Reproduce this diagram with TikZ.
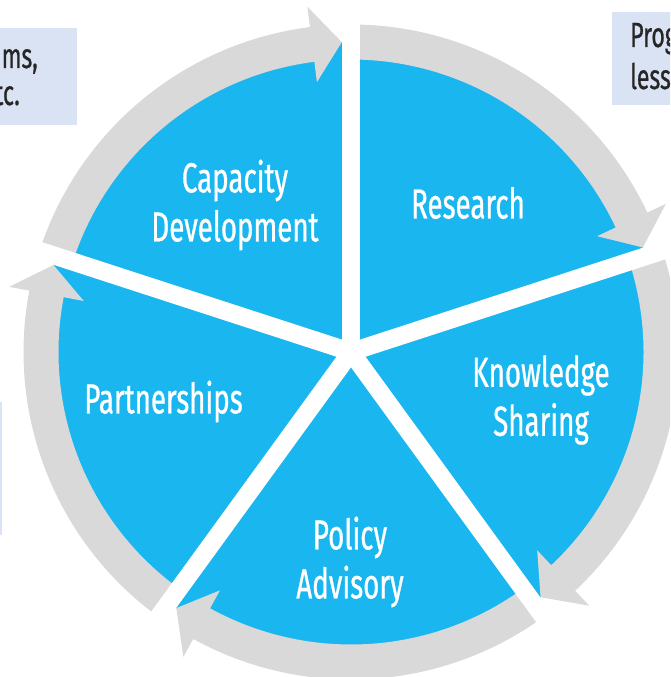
\documentclass[tikz,border=0pt]{standalone}
\usepackage{fontspec}
\newfontfamily\cf[FakeStretch=0.66, FakeBold=0.7]{Fira Sans}
\definecolor{wblue}{HTML}{19B6EF}
\definecolor{wgray}{HTML}{D9D9D9}
\definecolor{boxfill}{HTML}{DAE3F3}
\definecolor{boxtext}{HTML}{262626}
\newcommand\grayarrow[2]{%
  \pgfmathsetmacro\hb{#2+5.5}%
  \fill[wgray] (#1:327.5) arc[start angle=#1, end angle=\hb, radius=327.5pt]
    -- (\hb:348) -- (#2:310) -- (\hb:272) -- (\hb:292.5)
    arc[start angle=\hb, end angle=#1, radius=292.5pt] -- cycle;}
\begin{document}
\begin{tikzpicture}[x=1pt,y=1pt,
  lbl/.style={text=white, font=\cf\fontsize{42}{49}\selectfont, align=center, inner sep=0pt},
  boxtxt/.style={text=boxtext, font=\cf\fontsize{35}{40}\selectfont, inner sep=0pt},
  gapline/.style={draw=white, line width=18pt},
  infobox/.style={fill=boxfill, draw=none}]
\useasboundingbox (0,0) rectangle (670,677);
\clip (0,0) rectangle (670,677);
% side boxes (partly outside the picture)
\path[infobox] (-10,552) rectangle (77,649);
\path[infobox] (612,572) rectangle (690,665);
\path[infobox] (-10,142) rectangle (2,275);
\node[boxtxt, anchor=base east] (tl1) at (38,609) {ms,};
\node[boxtxt, anchor=base east] (tl2) at (20,572) {tc.};
\node[boxtxt, anchor=base west] (tr1) at (630,630) {Prog};
\node[boxtxt, anchor=base west] (tr2) at (630,588) {less};
\begin{scope}[shift={(351,325)}]
  \coordinate (C) at (0,0);
  \fill[wblue] (C) circle[radius=310pt];
  \grayarrow{90}{19.7}
  \grayarrow{18}{-52.3}
  \grayarrow{-54}{-124.3}
  \grayarrow{-126}{-196.3}
  \grayarrow{162}{91.7}
  \foreach \a/\n in {90/ga,18/gb,-54/gc,-126/gd,162/ge}{
    \coordinate (\n) at (\a:365);
    \draw[gapline] (C) -- (\n);
  }
\end{scope}
\node[lbl] (cap) at (235,472) {Capacity\\Development};
\node[lbl] (res) at (468,474) {Research};
\node[lbl] (kno) at (541,277) {Knowledge\\Sharing};
\node[lbl] (pol) at (350,115) {Policy\\Advisory};
\node[lbl] (par) at (163.5,275.5) {Partnerships};
\end{tikzpicture}
\end{document}
